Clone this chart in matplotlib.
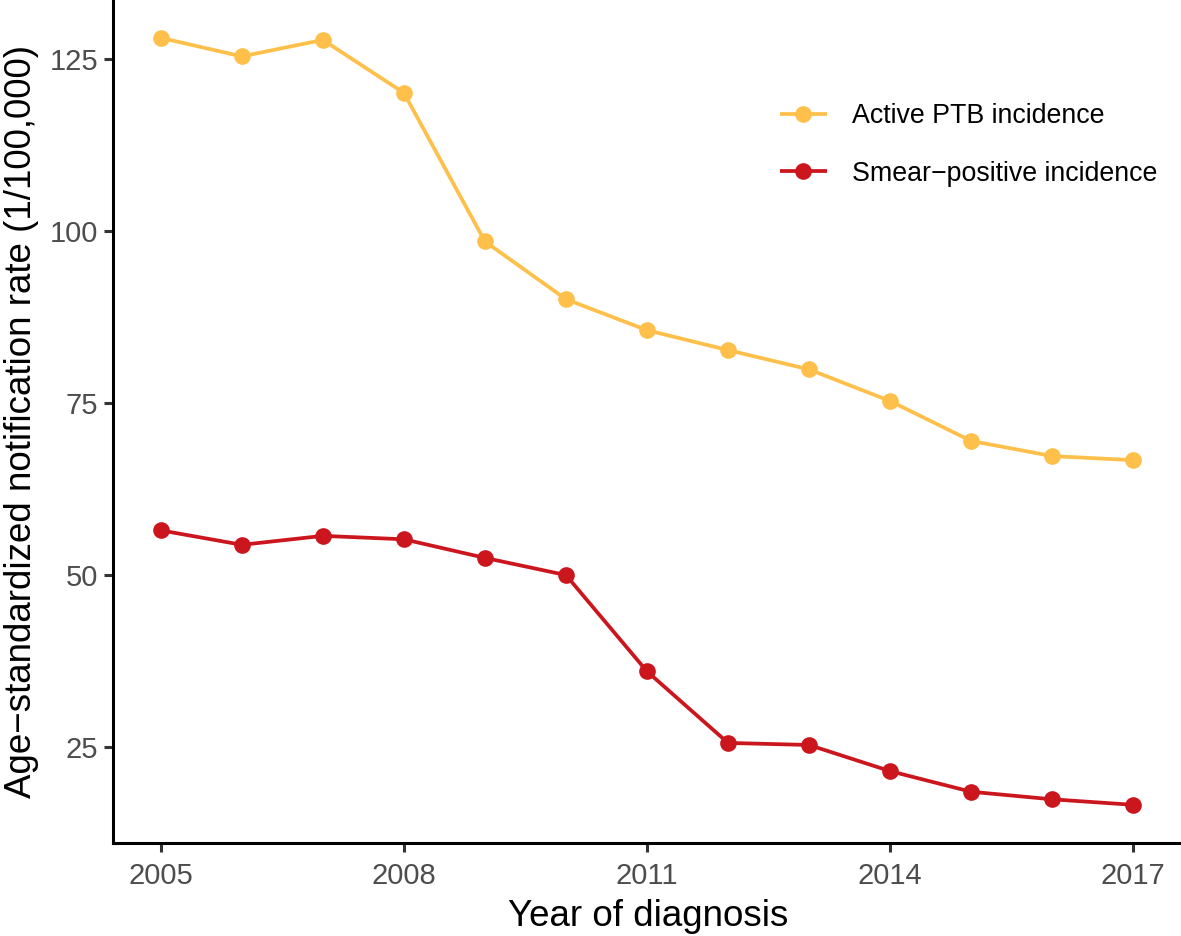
import matplotlib
matplotlib.use("Agg")
import matplotlib.pyplot as plt

years = [2005, 2006, 2007, 2008, 2009, 2010, 2011, 2012, 2013, 2014, 2015, 2016, 2017]
active_ptb = [128.1, 125.4, 127.8, 120.1, 98.5, 90.1, 85.6, 82.7, 79.9, 75.3, 69.5, 67.3, 66.7]
smear_pos = [56.5, 54.4, 55.7, 55.2, 52.5, 50.0, 36.0, 25.6, 25.3, 21.5, 18.5, 17.4, 16.6]
labels = ["Active PTB incidence", "Smear\u2212positive incidence"]
colors = ["#FEC04A", "#CC161E"]
xticks = [2005, 2008, 2011, 2014, 2017]
yticks = [25, 50, 75, 100, 125]

plt.rcParams['font.family'] = ['Liberation Sans', 'DejaVu Sans']

fig = plt.figure(figsize=(11.81, 9.36), dpi=100)
ax = fig.add_axes([113/1181, 93/936, 1 - 113/1181 + 0.002, 843/936])

for vals, lab, c in zip([active_ptb, smear_pos], labels, colors):
    ax.plot(years, vals, color=c, lw=2.7, marker='o', markersize=12,
            markeredgewidth=0, label=lab, solid_capstyle='butt')

ax.set_xlim(2004.41, 2017.62)
ax.set_ylim(11.05, 133.6)
ax.set_xticks(xticks)
ax.set_yticks(yticks)
ax.set_xticklabels([str(x) for x in xticks])
ax.set_yticklabels([str(y) for y in yticks])

for s in ['top', 'right']:
    ax.spines[s].set_visible(False)
for s in ['left', 'bottom']:
    ax.spines[s].set_linewidth(2.2)
    ax.spines[s].set_color('black')

ax.tick_params(axis='both', length=6.5, width=2.2, color='#333333',
               labelcolor='#4D4D4D', labelsize=21, pad=4)
ax.tick_params(axis='x', pad=7)

ax.set_xlabel("Year of diagnosis", fontsize=26.5, color='black', labelpad=7)
ax.set_ylabel("Age\u2212standardized notification rate (1/100,000)", fontsize=26.5,
              color='black', labelpad=8)

leg = ax.legend(loc='center left', bbox_to_anchor=(780/1181, 1 - 145/936),
                bbox_transform=fig.transFigure, frameon=False, fontsize=19.3,
                handlelength=1.75, handletextpad=0.93, labelspacing=1.16,
                borderpad=0, borderaxespad=0)

fig.savefig("out.png", dpi=100)
